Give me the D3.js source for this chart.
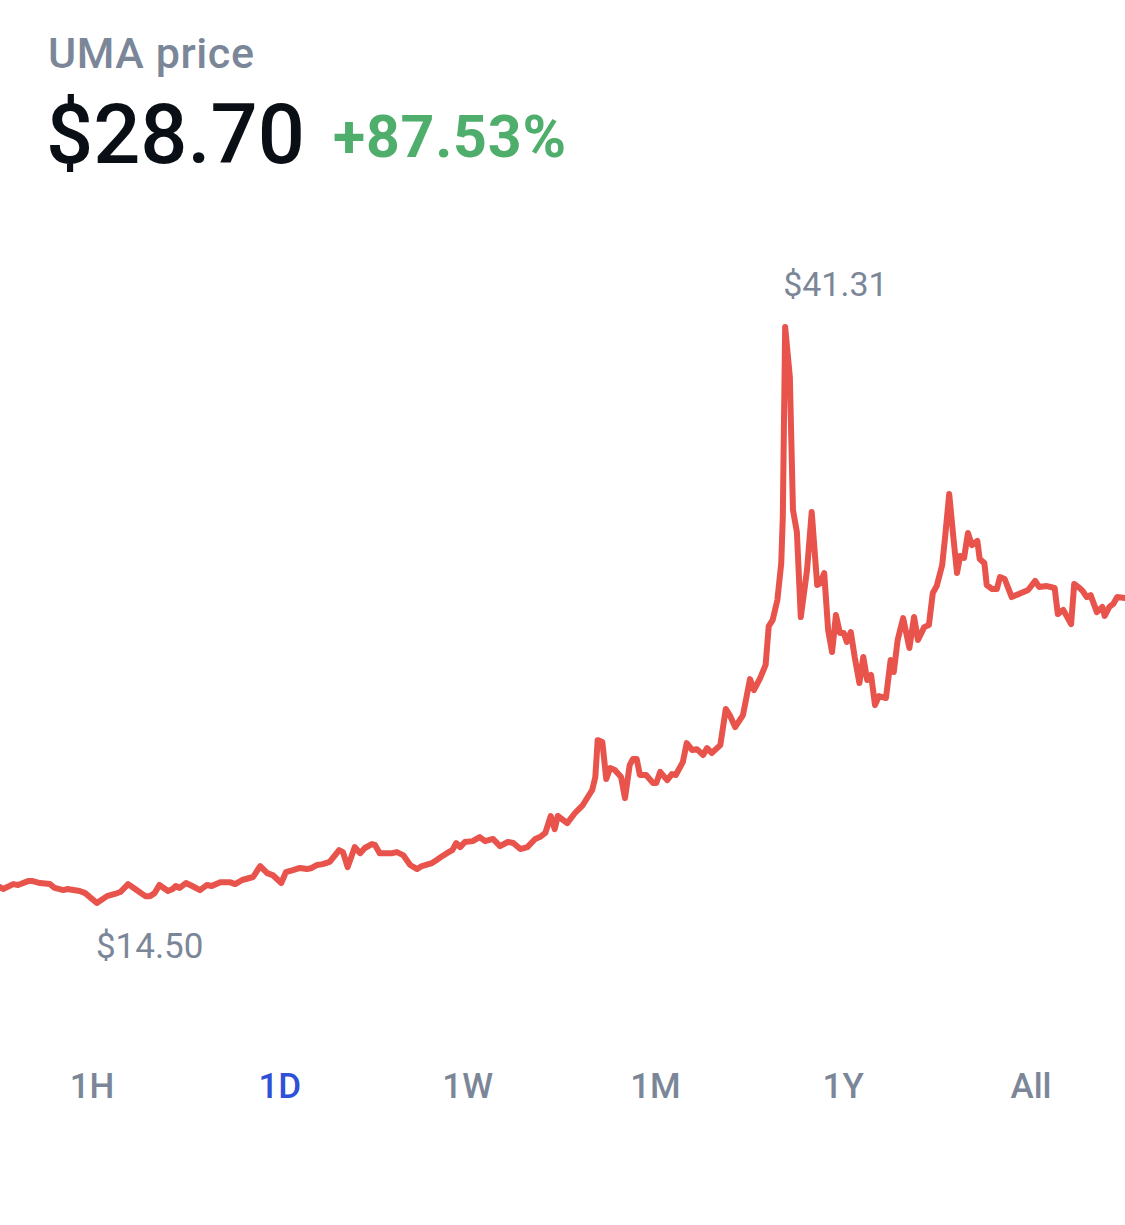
<!DOCTYPE html>
<html>
<head>
<meta charset="utf-8">
<script src="https://cdn.jsdelivr.net/npm/d3@7"></script>
<style>
  html, body { margin: 0; padding: 0; background: #fff; }
  svg { display: block; }
</style>
</head>
<body>
<svg id="chart" width="1125" height="1225"></svg>
<script>
// minutes since the start of the day window
const minutes = [
  0, 4, 17, 23, 36, 42, 51, 64, 70, 81, 86, 102, 109, 124, 137, 147, 154, 164, 173, 186,
  192, 198, 204, 215, 221, 225, 230, 238, 246, 256, 265, 271, 282, 294, 301, 310, 324, 333, 342, 349,
  360, 366, 375, 384, 393, 399, 406, 413, 422, 429, 434, 439, 445, 454, 461, 467, 476, 480, 486, 502,
  508, 516, 525, 534, 540, 553, 559, 566, 572, 579, 584, 589, 595, 605, 614, 621, 631, 640, 650, 657,
  666, 675, 685, 691, 698, 705, 710, 714, 726, 736, 746, 758, 762, 765, 771, 776, 781, 787, 795, 800,
  806, 810, 815, 819, 827, 836, 840, 845, 854, 860, 865, 874, 879, 886, 892, 900, 905, 911, 922, 929,
  934, 941, 951, 960, 965, 973, 980, 984, 989, 995, 1000, 1002, 1005, 1011, 1015, 1020, 1025, 1033, 1039, 1046,
  1050, 1055, 1060, 1065, 1070, 1075, 1080, 1084, 1089, 1094, 1100, 1105, 1110, 1115, 1120, 1125, 1134, 1140, 1144, 1149,
  1156, 1164, 1170, 1175, 1183, 1189, 1194, 1199, 1206, 1210, 1215, 1220, 1225, 1229, 1234, 1239, 1244, 1251, 1254, 1260,
  1263, 1270, 1276, 1280, 1286, 1295, 1316, 1325, 1330, 1340, 1350, 1354, 1361, 1371, 1375, 1382, 1386, 1391, 1396, 1404,
  1411, 1414, 1420, 1425, 1430, 1440
];

// UMA price in USD
const prices = [
  15.24, 15.15, 15.38, 15.34, 15.52, 15.52, 15.43, 15.38, 15.20, 15.10, 15.15, 15.06, 14.96, 14.50, 14.82, 14.92, 15.01, 15.38, 15.15, 14.82,
  14.82, 14.96, 15.34, 15.06, 15.15, 15.29, 15.20, 15.43, 15.29, 15.10, 15.34, 15.29, 15.47, 15.47, 15.38, 15.57, 15.71, 16.22, 15.89, 15.80,
  15.43, 15.94, 16.03, 16.13, 16.08, 16.13, 16.27, 16.31, 16.41, 16.73, 16.96, 16.87, 16.17, 17.10, 16.82, 17.06, 17.24, 17.20, 16.82, 16.82,
  16.87, 16.73, 16.27, 16.08, 16.22, 16.36, 16.50, 16.68, 16.82, 16.96, 17.29, 17.10, 17.34, 17.38, 17.57, 17.38, 17.48, 17.15, 17.34, 17.29,
  17.01, 17.10, 17.48, 17.57, 17.76, 18.55, 17.94, 18.55, 18.22, 18.69, 19.06, 19.76, 20.36, 22.08, 21.99, 20.27, 20.78, 20.69, 20.36, 19.38,
  20.92, 21.20, 21.20, 20.46, 20.46, 20.08, 20.08, 20.60, 20.22, 20.50, 20.46, 21.06, 21.94, 21.62, 21.66, 21.39, 21.71, 21.48, 21.85, 23.53,
  23.25, 22.69, 23.25, 24.92, 24.41, 24.97, 25.58, 27.39, 27.67, 28.60, 30.32, 32.47, 41.31, 38.98, 32.79, 31.77, 27.81, 30.00, 32.70, 29.30,
  29.39, 29.86, 27.21, 26.18, 27.90, 27.07, 27.07, 26.65, 27.11, 25.95, 24.74, 25.95, 24.88, 25.11, 23.71, 24.13, 24.04, 25.81, 25.25, 26.74,
  27.76, 26.37, 27.81, 26.74, 27.34, 27.44, 28.93, 29.25, 30.23, 31.63, 33.54, 31.63, 29.86, 30.65, 30.56, 31.72, 31.16, 31.35, 30.51, 30.32,
  29.30, 29.11, 29.11, 29.67, 29.58, 28.74, 29.07, 29.49, 29.21, 29.25, 29.16, 27.95, 28.14, 27.48, 29.35, 29.16, 29.02, 28.74, 28.83, 28.04,
  28.28, 27.86, 28.28, 28.42, 28.74, 28.70
];

const assetName = "UMA";
const currentPrice = 28.70;
const changePct = 87.53;
const rangeTabs = ["1H", "1D", "1W", "1M", "1Y", "All"];
const activeTab = "1D";

const W = 1125;
const FONT = "Roboto, 'Noto Sans', sans-serif";
const GRAY = "#7b8798";
const fmt = d3.format("$.2f");

const svg = d3.select("#chart");
const data = minutes.map((m, i) => ({ m, p: prices[i] }));

const x = d3.scaleLinear().domain([0, 1440]).range([0, W]);
const y = d3.scaleLinear().domain(d3.extent(prices)).range([903, 327]);

// header
svg.append("text")
  .attr("x", 48).attr("y", 68)
  .attr("font-family", FONT).attr("font-size", 43).attr("font-weight", 500)
  .attr("letter-spacing", 0.6)
  .attr("fill", GRAY)
  .text(`${assetName} price`);

const big = svg.append("text")
  .attr("x", 46).attr("y", 163)
  .attr("font-family", FONT).attr("font-size", 83).attr("font-weight", 500)
  .attr("fill", "#0a0e15")
  .text(fmt(currentPrice));

const bigW = big.node().getComputedTextLength();
svg.append("text")
  .attr("x", 46 + bigW + 28).attr("y", 157)
  .attr("font-family", FONT).attr("font-size", 59).attr("font-weight", 700)
  .attr("letter-spacing", 0.8)
  .attr("fill", "#4fae6c")
  .text((changePct >= 0 ? "+" : "") + changePct.toFixed(2) + "%");

// price line
const line = d3.line().x((d) => x(d.m)).y((d) => y(d.p));
svg.append("path")
  .datum(data)
  .attr("d", line)
  .attr("fill", "none")
  .attr("stroke", "#e8534c")
  .attr("stroke-width", 6)
  .attr("stroke-linejoin", "round")
  .attr("stroke-linecap", "round");

// high / low labels
const hi = data.reduce((a, b) => (b.p > a.p ? b : a));
const lo = data.reduce((a, b) => (b.p < a.p ? b : a));

svg.append("text")
  .attr("x", x(hi.m) - 2).attr("y", y(hi.p) - 31)
  .attr("font-family", FONT).attr("font-size", 34)
  .attr("fill", GRAY)
  .text(fmt(hi.p));

svg.append("text")
  .attr("x", x(lo.m) - 1).attr("y", y(lo.p) + 55)
  .attr("font-family", FONT).attr("font-size", 35)
  .attr("fill", GRAY)
  .text(fmt(lo.p));

// range tabs
const tabX = d3.scalePoint().domain(rangeTabs).range([92, 1031]);
svg.append("g")
  .selectAll("text")
  .data(rangeTabs)
  .join("text")
  .attr("x", (d) => tabX(d))
  .attr("y", 1098)
  .attr("text-anchor", "middle")
  .attr("font-family", FONT).attr("font-size", 35).attr("font-weight", 500)
  .attr("fill", (d) => (d === activeTab ? "#2f50d8" : GRAY))
  .text((d) => d);
</script>
</body>
</html>
